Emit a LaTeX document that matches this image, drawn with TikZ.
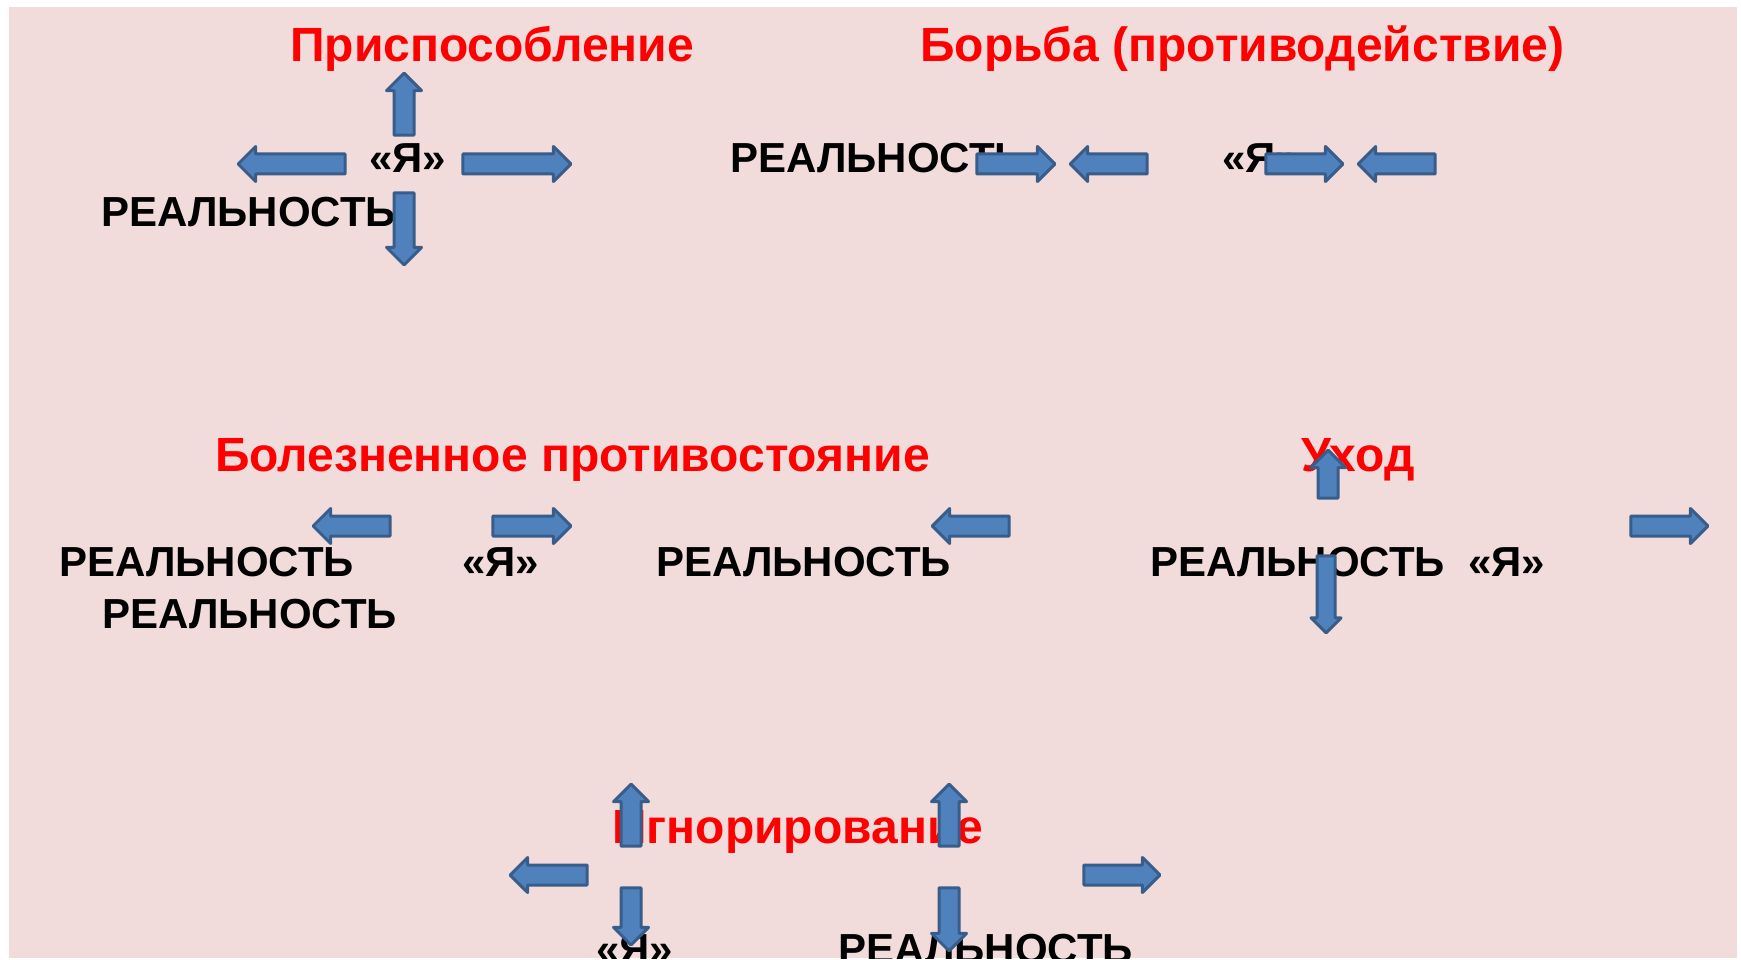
\documentclass[tikz,border=0pt]{standalone}
\usepackage{fontspec}
\setmainfont{Liberation Sans}
\usepackage{xcolor}
\usepackage{tikz}
\usetikzlibrary{shapes.arrows}
\definecolor{slidebg}{HTML}{F2DCDB}
\definecolor{arrowfill}{HTML}{4F81BD}
\definecolor{arrowline}{HTML}{385D8A}

\begin{document}
\begin{tikzpicture}[x=1pt,y=-1pt,
	title/.style={font=\bfseries\fontsize{48}{56}\selectfont,text=red,anchor=base west,inner sep=0pt},
	word/.style={font=\bfseries\fontsize{42}{50}\selectfont,anchor=base west,inner sep=0pt},
	barrow/.style={single arrow,draw=arrowline,fill=arrowfill,line width=3pt,line join=round,
		inner sep=8.5pt,minimum width=32pt,single arrow head extend=7.5pt,anchor=tip},
	toright/.style={barrow,shape border rotate=0},
	toleft/.style={barrow,shape border rotate=180},
	toup/.style={barrow,shape border rotate=90},
	todown/.style={barrow,shape border rotate=270}]
	\useasboundingbox (0,0) rectangle (1741,960);
	\clip (0,0) rectangle (1741,958);
	\fill[slidebg] (9,7) rectangle (1737,958);
	% headings
	\node[title] (t1) at (290,62) {Приспособление};
	\node[title] (t2) at (920,62) {Борьба (противодействие)};
	\node[title] (t3) at (215,471) {Болезненное противостояние};
	\node[title] (t4) at (1301,471) {Уход};
	\node[title] (t5) at (612,843) {Игнорирование};
	% words
	\node[word] (y1) at (369,173) {«Я»};
	\node[word] (r1) at (101,227) {РЕАЛЬНОСТЬ};
	\node[word] (r2) at (730,173) {РЕАЛЬНОСТЬ};
	\node[word] (y2) at (1222,173) {«Я»};
	\node[word] (r3) at (59,576) {РЕАЛЬНОСТЬ};
	\node[word] (y3) at (462,576) {«Я»};
	\node[word] (r4) at (656,576) {РЕАЛЬНОСТЬ};
	\node[word] (r5) at (102,628) {РЕАЛЬНОСТЬ};
	\node[word] (r6) at (1150,576) {РЕАЛЬНОСТЬ};
	\node[word] (y4) at (1468,576) {«Я»};
	\node[word] (y5) at (596,963) {«Я»};
	\node[word] (r7) at (838,963) {РЕАЛЬНОСТЬ};
	% arrows, placed by their tips
	\node[toleft,minimum height=107pt] (a1) at (236,164) {};
	\node[toright,minimum height=108pt] (a2) at (573,164) {};
	\node[toup,minimum height=62pt] (a3) at (404,71) {};
	\node[todown,minimum height=72pt] (a4) at (404,267) {};
	\node[toright,minimum height=78pt] (b1) at (1057,164) {};
	\node[toleft,minimum height=77pt] (b2) at (1068,164) {};
	\node[toright,minimum height=77pt] (b3) at (1345,164) {};
	\node[toleft,minimum height=77pt] (b4) at (1356,164) {};
	\node[toleft,minimum height=77pt] (c1) at (311,526) {};
	\node[toright,minimum height=78pt] (c2) at (573,526) {};
	\node[toleft,minimum height=77pt] (c3) at (930,526) {};
	\node[toup,minimum height=48pt] (d1) at (1328,448) {};
	\node[toright,minimum height=77pt] (d2) at (1710,526) {};
	\node[todown,minimum height=77pt,minimum width=27pt,inner sep=7.5pt,single arrow head extend=6pt] (d3) at (1326,635) {};
	\node[toup,minimum height=62pt] (e1) at (631,782) {};
	\node[toup,minimum height=62pt] (e2) at (949,782) {};
	\node[toleft,minimum height=77pt] (e3) at (508,875) {};
	\node[toright,minimum height=76pt] (e4) at (1162,875) {};
	\node[todown,minimum height=57pt] (e5) at (631,947) {};
	\node[todown,minimum height=63pt] (e6) at (949,953) {};
\end{tikzpicture}
\end{document}
